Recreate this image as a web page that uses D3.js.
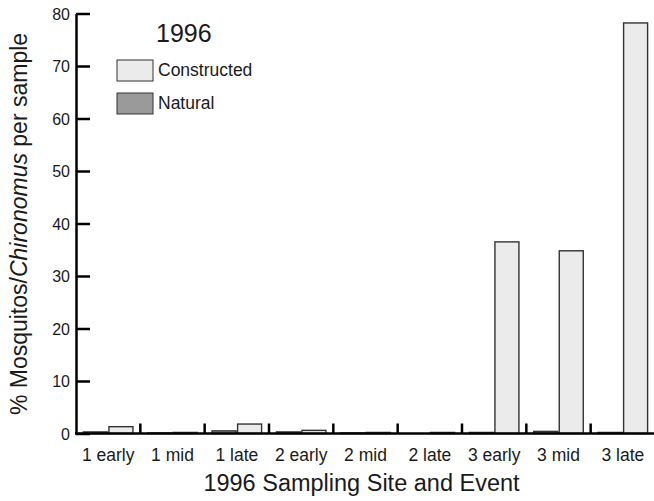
<!DOCTYPE html>
<html>
<head>
<meta charset="utf-8">
<script src="https://cdn.jsdelivr.net/npm/d3@7"></script>
<style>
  html, body { margin: 0; padding: 0; background: #fff; }
  svg { display: block; }
  text { font-family: "Liberation Sans", Arial, Helvetica, sans-serif; fill: #1a1a1a; }
</style>
</head>
<body>
<svg id="chart" width="654" height="501"></svg>
<script>
// Sampling site/event categories
const categories = ["1 early", "1 mid", "1 late", "2 early", "2 mid", "2 late", "3 early", "3 mid", "3 late"];
// % Mosquitos/Chironomus per sample
const constructed = [1.3, 0.2, 1.8, 0.6, 0.2, 0.2, 36.5, 34.8, 78.2];
const natural = [0.3, 0.1, 0.5, 0.3, 0.1, 0.0, 0.2, 0.4, 0.2];
const yTicks = [0, 10, 20, 30, 40, 50, 60, 70, 80];
const seriesNames = ["Natural", "Constructed"];
const seriesValues = { Natural: natural, Constructed: constructed };
const seriesFill = { Natural: "#9a9a9a", Constructed: "#ebebeb" };

const svg = d3.select("#chart");
const plot = { left: 76, right: 655, top: 13.5, bottom: 433.5 };

const x = d3.scaleBand().domain(categories).range([plot.left, plot.right]).padding(0);
const xs = d3.scaleBand().domain(seriesNames).range([0, x.bandwidth()])
  .paddingInner(0.06).paddingOuter(0.29);
const y = d3.scaleLinear().domain([0, 80]).range([plot.bottom, plot.top]);

// Bars
const groups = svg.append("g").selectAll("g")
  .data(categories).join("g")
  .attr("transform", d => `translate(${x(d)},0)`);

groups.selectAll("rect")
  .data((d, i) => seriesNames.map(s => ({ s, v: seriesValues[s][i] })))
  .join("rect")
  .attr("x", d => xs(d.s))
  .attr("width", xs.bandwidth())
  .attr("y", d => y(d.v))
  .attr("height", d => plot.bottom - y(d.v))
  .attr("fill", d => seriesFill[d.s])
  .attr("stroke", "#333")
  .attr("stroke-width", 1.4);

// Y axis with inward ticks
const yAxis = svg.append("g")
  .attr("transform", `translate(${plot.left},0)`)
  .call(d3.axisRight(y).tickValues(yTicks).tickSize(14).tickSizeOuter(0).tickFormat(d3.format("d")));
yAxis.select(".domain").attr("stroke", "#000").attr("stroke-width", 2.5);
yAxis.selectAll(".tick line").attr("stroke", "#000").attr("stroke-width", 2.5);
yAxis.selectAll(".tick text")
  .attr("x", -6).attr("text-anchor", "end").attr("dy", "0.35em")
  .style("font-size", "16px").style("font-family", "Liberation Sans, Arial, sans-serif").attr("fill", "#1a1a1a");

// X axis: ticks mark the boundaries between groups, pointing up
const xAxis = svg.append("g").attr("transform", `translate(0,${plot.bottom})`);
xAxis.append("line")
  .attr("x1", plot.left - 1).attr("x2", plot.right).attr("y1", 0).attr("y2", 0)
  .attr("stroke", "#000").attr("stroke-width", 2.5);
xAxis.selectAll("line.sep")
  .data(categories.slice(0, -1)).join("line")
  .attr("class", "sep")
  .attr("x1", d => x(d) + x.bandwidth()).attr("x2", d => x(d) + x.bandwidth())
  .attr("y1", 0).attr("y2", -10)
  .attr("stroke", "#000").attr("stroke-width", 2.5);
xAxis.selectAll("text.cat")
  .data(categories).join("text")
  .attr("class", "cat")
  .attr("x", d => x(d) + x.bandwidth() / 2)
  .attr("y", 27)
  .attr("text-anchor", "middle")
  .style("font-size", "17.5px")
  .text(d => d);

// Axis titles
svg.append("text")
  .attr("x", (plot.left + plot.right) / 2 - 4).attr("y", 491)
  .attr("text-anchor", "middle")
  .style("font-size", "23.5px")
  .text("1996 Sampling Site and Event");

const yt = svg.append("text")
  .attr("transform", `translate(27,224) rotate(-90)`)
  .attr("text-anchor", "middle")
  .style("font-size", "23px");
yt.append("tspan").text("% Mosquitos/");
yt.append("tspan").style("font-style", "italic").text("Chironomus");
yt.append("tspan").text(" per sample");

// Legend
svg.append("text")
  .attr("x", 156).attr("y", 42)
  .style("font-size", "25px")
  .text("1996");
const legendItems = ["Constructed", "Natural"];
const leg = svg.append("g").selectAll("g")
  .data(legendItems).join("g")
  .attr("transform", (d, i) => `translate(117,${60 + i * 33})`);
leg.append("rect")
  .attr("width", 36).attr("height", 21)
  .attr("fill", d => seriesFill[d])
  .attr("stroke", "#333").attr("stroke-width", 1);
leg.append("text")
  .attr("x", 41).attr("y", 16)
  .style("font-size", "17.5px")
  .text(d => d);
</script>
</body>
</html>
